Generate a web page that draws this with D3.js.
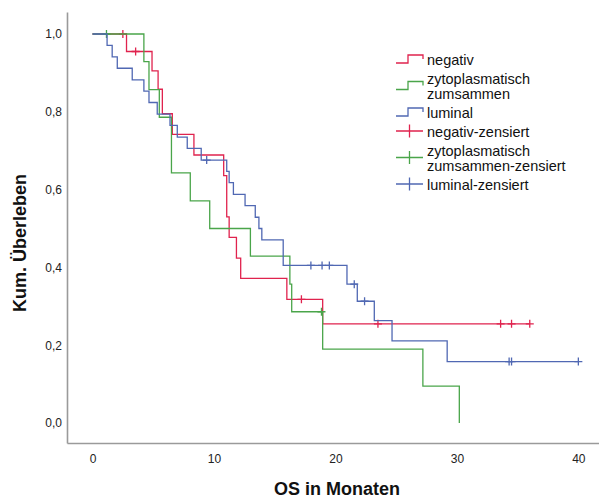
<!DOCTYPE html>
<html>
<head>
<meta charset="utf-8">
<script src="https://cdn.jsdelivr.net/npm/d3@7"></script>
<style>
  body { margin: 0; background: #fff; }
  svg { display: block; font-family: "Liberation Sans", Arial, sans-serif; }
</style>
</head>
<body>
<svg id="chart" width="599" height="499"></svg>
<script>
// step times (months) and survival after each step
const negTimes = [0, 2.8, 4.9, 5.4, 5.75, 6.57, 8.35, 10.8, 11.05, 11.25, 11.85, 12.2, 16.0, 18.95];
const negSurv  = [1, 0.955, 0.905, 0.858, 0.795, 0.742, 0.689, 0.636, 0.53, 0.477, 0.424, 0.372, 0.318, 0.255];
const negCens  = [2.5, 3.55, 17.2, 23.5, 33.6, 34.5, 36.0];

const zytTimes = [0, 4.23, 4.65, 5.5, 6.5, 8.05, 9.65, 13.0, 16.25, 16.4, 18.95, 27.2, 30.2];
const zytSurv  = [1, 0.929, 0.857, 0.786, 0.643, 0.571, 0.5, 0.429, 0.357, 0.286, 0.19, 0.095, 0];
const zytCens  = [1.15, 18.85];

const lumTimes = [0, 1.2, 1.62, 2.04, 3.27, 4.23, 4.65, 5.33, 6.38, 6.98, 7.8, 8.95, 11.05, 11.25, 11.6, 12.56, 13.4, 13.7, 13.94, 15.7, 20.95, 21.8, 23.2, 24.66, 29.2];
const lumSurv  = [1, 0.971, 0.941, 0.912, 0.882, 0.853, 0.824, 0.794, 0.765, 0.735, 0.706, 0.676, 0.647, 0.618, 0.588, 0.559, 0.529, 0.5, 0.471, 0.405, 0.357, 0.313, 0.263, 0.211, 0.158];
const lumCens  = [9.4, 17.98, 18.9, 19.5, 21.55, 22.4, 34.3, 34.5, 40.0];

const xTicks = [0, 10, 20, 30, 40];
const yTicks = [0, 0.2, 0.4, 0.6, 0.8, 1.0];

const legendLabels = [
  ["negativ"],
  ["zytoplasmatisch", "zumsammen"],
  ["luminal"],
  ["negativ-zensiert"],
  ["zytoplasmatisch", "zumsammen-zensiert"],
  ["luminal-zensiert"]
];

const red = "#e0234e", green = "#4aa54a", blue = "#5068b3";

const groups = [
  { times: negTimes, surv: negSurv, cens: negCens, color: red },
  { times: zytTimes, surv: zytSurv, cens: zytCens, color: green },
  { times: lumTimes, surv: lumSurv, cens: lumCens, color: blue }
];

const svg = d3.select("#chart");

const x = d3.scaleLinear().domain([-2.1, 41.7]).range([67, 599]);
const y = d3.scaleLinear().domain([-0.0514, 1.0566]).range([443, 12]);

const de = d3.formatLocale({ decimal: ",", thousands: ".", grouping: [3], currency: ["", "€"] });

// axes
const xAxis = svg.append("g")
  .attr("transform", "translate(0,443)")
  .call(d3.axisBottom(x).tickValues(xTicks).tickSize(0).tickSizeOuter(0).tickPadding(11).tickFormat(d3.format("d")));
const yAxis = svg.append("g")
  .attr("transform", "translate(67,0)")
  .call(d3.axisLeft(y).tickValues(yTicks).tickSize(0).tickSizeOuter(0).tickPadding(5).tickFormat(de.format(".1f")));

[xAxis, yAxis].forEach(ax => {
  ax.select(".domain").attr("stroke", "#9a9a9a").attr("stroke-width", 1.6);
  ax.selectAll(".tick text")
    .attr("font-family", "Liberation Sans, Arial, sans-serif")
    .attr("font-size", 12)
    .attr("fill", "#222");
});

// axis titles
svg.append("text")
  .attr("x", 337).attr("y", 495)
  .attr("text-anchor", "middle")
  .attr("font-size", 18).attr("font-weight", "bold").attr("fill", "#111")
  .text("OS in Monaten");
svg.append("text")
  .attr("transform", "translate(26,243) rotate(-90)")
  .attr("text-anchor", "middle")
  .attr("font-size", 18).attr("font-weight", "bold").attr("fill", "#111")
  .text("Kum. Überleben");

// survival value at time t
function survAt(g, t) {
  let s = g.surv[0];
  for (let i = 0; i < g.times.length; i++) {
    if (g.times[i] <= t) s = g.surv[i];
  }
  return s;
}

const stepLine = d3.line()
  .x(d => x(d[0]))
  .y(d => y(d[1]))
  .curve(d3.curveStepAfter);

groups.forEach(g => {
  const pts = g.times.map((t, i) => [t, g.surv[i]]);
  const end = Math.max(d3.max(g.times), d3.max(g.cens));
  if (end > g.times[g.times.length - 1]) pts.push([end, g.surv[g.surv.length - 1]]);

  svg.append("path")
    .datum(pts)
    .attr("d", stepLine)
    .attr("fill", "none")
    .attr("stroke", g.color)
    .attr("stroke-width", 1.3);

  // censor marks
  svg.append("g")
    .selectAll("path")
    .data(g.cens)
    .enter()
    .append("path")
    .attr("d", d => {
      const cx = x(d), cy = y(survAt(g, d));
      return `M${cx - 4},${cy}H${cx + 4}M${cx},${cy - 4}V${cy + 4}`;
    })
    .attr("stroke", g.color)
    .attr("stroke-width", 1.3)
    .attr("fill", "none");
});

// legend
const legendColors = [red, green, blue, red, green, blue];
let base = 65;
legendLabels.forEach((lines, i) => {
  const center = base - 6 + (lines.length - 1) * 7.5;
  const col = legendColors[i];
  if (i < 3) {
    svg.append("path")
      .attr("d", `M396,${center + 4}H408V${center - 4}H423V${center}`)
      .attr("fill", "none").attr("stroke", col).attr("stroke-width", 1.3);
  } else {
    svg.append("path")
      .attr("d", `M396,${center}H423M409.5,${center - 6.5}V${center + 6.5}`)
      .attr("fill", "none").attr("stroke", col).attr("stroke-width", 1.3);
  }
  const t = svg.append("text")
    .attr("x", 427).attr("y", base)
    .attr("font-size", 14.5).attr("fill", "#111");
  lines.forEach((ln, j) => {
    t.append("tspan").attr("x", 427).attr("y", base + j * 15).text(ln);
  });
  base += (lines.length - 1) * 15 + 19;
});
</script>
</body>
</html>
